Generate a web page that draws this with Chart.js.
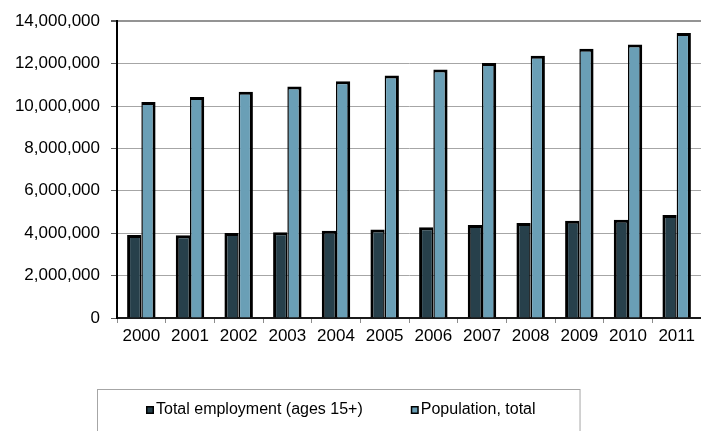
<!DOCTYPE html>
<html>
<head>
<meta charset="utf-8">
<title>Employment and population</title>
<script src="https://cdn.jsdelivr.net/npm/chart.js@4/dist/chart.umd.min.js"></script>
<style>
  html, body { margin: 0; padding: 0; background: #fff; }
  #wrap { width: 701px; height: 431px; }
</style>
</head>
<body>
<div id="wrap"><canvas id="chart" width="701" height="431"></canvas></div>
<script>
// years on the x axis
var years = ['2000', '2001', '2002', '2003', '2004', '2005', '2006', '2007', '2008', '2009', '2010', '2011'];

// total employment (ages 15+)
var employment = [3920000, 3900000, 4010000, 4040000, 4110000, 4180000, 4280000, 4390000, 4480000, 4590000, 4640000, 4860000];

// total population
var population = [10190000, 10430000, 10670000, 10920000, 11170000, 11440000, 11720000, 12030000, 12370000, 12700000, 12900000, 13440000];

var seriesNames = ['Total employment (ages 15+)', 'Population, total'];
var yTicks = [0, 2000000, 4000000, 6000000, 8000000, 10000000, 12000000, 14000000];
var yMax = 14000000;

var FONT = '"Liberation Sans", Arial, Helvetica, sans-serif';

// legend drawn as a framed row under the axis, like the spreadsheet one
var boxedLegend = {
    id: 'boxedLegend',
    afterDraw: function (chart) {
        var ctx = chart.ctx;
        var area = chart.chartArea;
        ctx.save();
        ctx.font = '16px ' + FONT;
        var sq = 8, gapText = 2, gapItem = 48;
        var items = chart.data.datasets.map(function (ds) {
            var w = ctx.measureText(ds.label).width;
            return { label: ds.label, color: ds.backgroundColor, w: sq + gapText + w };
        });
        var total = items.reduce(function (s, it) { return s + it.w; }, 0) + gapItem * (items.length - 1);
        var startX = Math.round(chart.width / 2 - 10 - total / 2);
        var cy = area.bottom + 92;

        // frame
        ctx.strokeStyle = '#a6a6a6';
        ctx.lineWidth = 1;
        ctx.strokeRect(startX - 48.5, area.bottom + 71.5, total + 93, 80);

        var x = startX;
        items.forEach(function (it) {
            ctx.fillStyle = '#000';
            ctx.fillRect(x, cy - 4, sq, sq);
            ctx.fillStyle = it.color;
            ctx.fillRect(x + 1.5, cy - 2.5, sq - 3, sq - 3);
            ctx.fillStyle = '#000';
            ctx.textBaseline = 'middle';
            ctx.textAlign = 'left';
            ctx.fillText(it.label, x + sq + gapText, cy);
            x += it.w + gapItem;
        });
        ctx.restore();
    }
};

var ctx = document.getElementById('chart').getContext('2d');
var chart = new Chart(ctx, {
    type: 'bar',
    data: {
        labels: years,
        datasets: [{
            label: seriesNames[0],
            data: employment,
            backgroundColor: '#27404b',
            borderColor: '#000',
            borderWidth: { top: 3, left: 3, right: 1.5, bottom: 0 },
            borderSkipped: false
        },
        {
            label: seriesNames[1],
            data: population,
            backgroundColor: '#6a9fb6',
            borderColor: '#000',
            borderWidth: { top: 3, left: 1.5, right: 3, bottom: 0 },
            borderSkipped: false
        }]
    },
    options: {
        responsive: false,
        animation: false,
        devicePixelRatio: 1,
        datasets: {
            bar: { categoryPercentage: 0.585, barPercentage: 1 }
        },
        layout: { padding: { top: 12, right: 0, bottom: 83, left: 0 } },
        plugins: {
            legend: { display: false },
            tooltip: { enabled: false }
        },
        scales: {
            x: {
                grid: {
                    offset: true,
                    drawOnChartArea: false,
                    drawTicks: true,
                    tickLength: 5,
                    tickColor: '#8c8c8c'
                },
                border: { color: '#1a1a1a', width: 2 },
                ticks: { color: '#000', font: { family: FONT, size: 17 }, padding: 3 },
                afterFit: function (s) { s.height = 30; }
            },
            y: {
                min: 0,
                max: yMax,
                afterBuildTicks: function (s) {
                    s.ticks = yTicks.map(function (v) { return { value: v }; });
                },
                grid: {
                    // top line is heavier, it closes the plot
                    color: function (c) { return c.tick && c.tick.value === yMax ? '#949494' : '#a6a6a6'; },
                    lineWidth: function (c) { return c.tick && c.tick.value === yMax ? 2 : 1; },
                    tickLength: 6,
                    tickColor: '#595959'
                },
                border: { color: '#000', width: 2 },
                ticks: {
                    color: '#000',
                    font: { family: FONT, size: 17 },
                    padding: 11,
                    callback: function (v) { return Number(v).toLocaleString('en-US'); }
                },
                afterFit: function (s) { s.width = 117; }
            }
        }
    },
    plugins: [boxedLegend]
});
</script>
</body>
</html>
